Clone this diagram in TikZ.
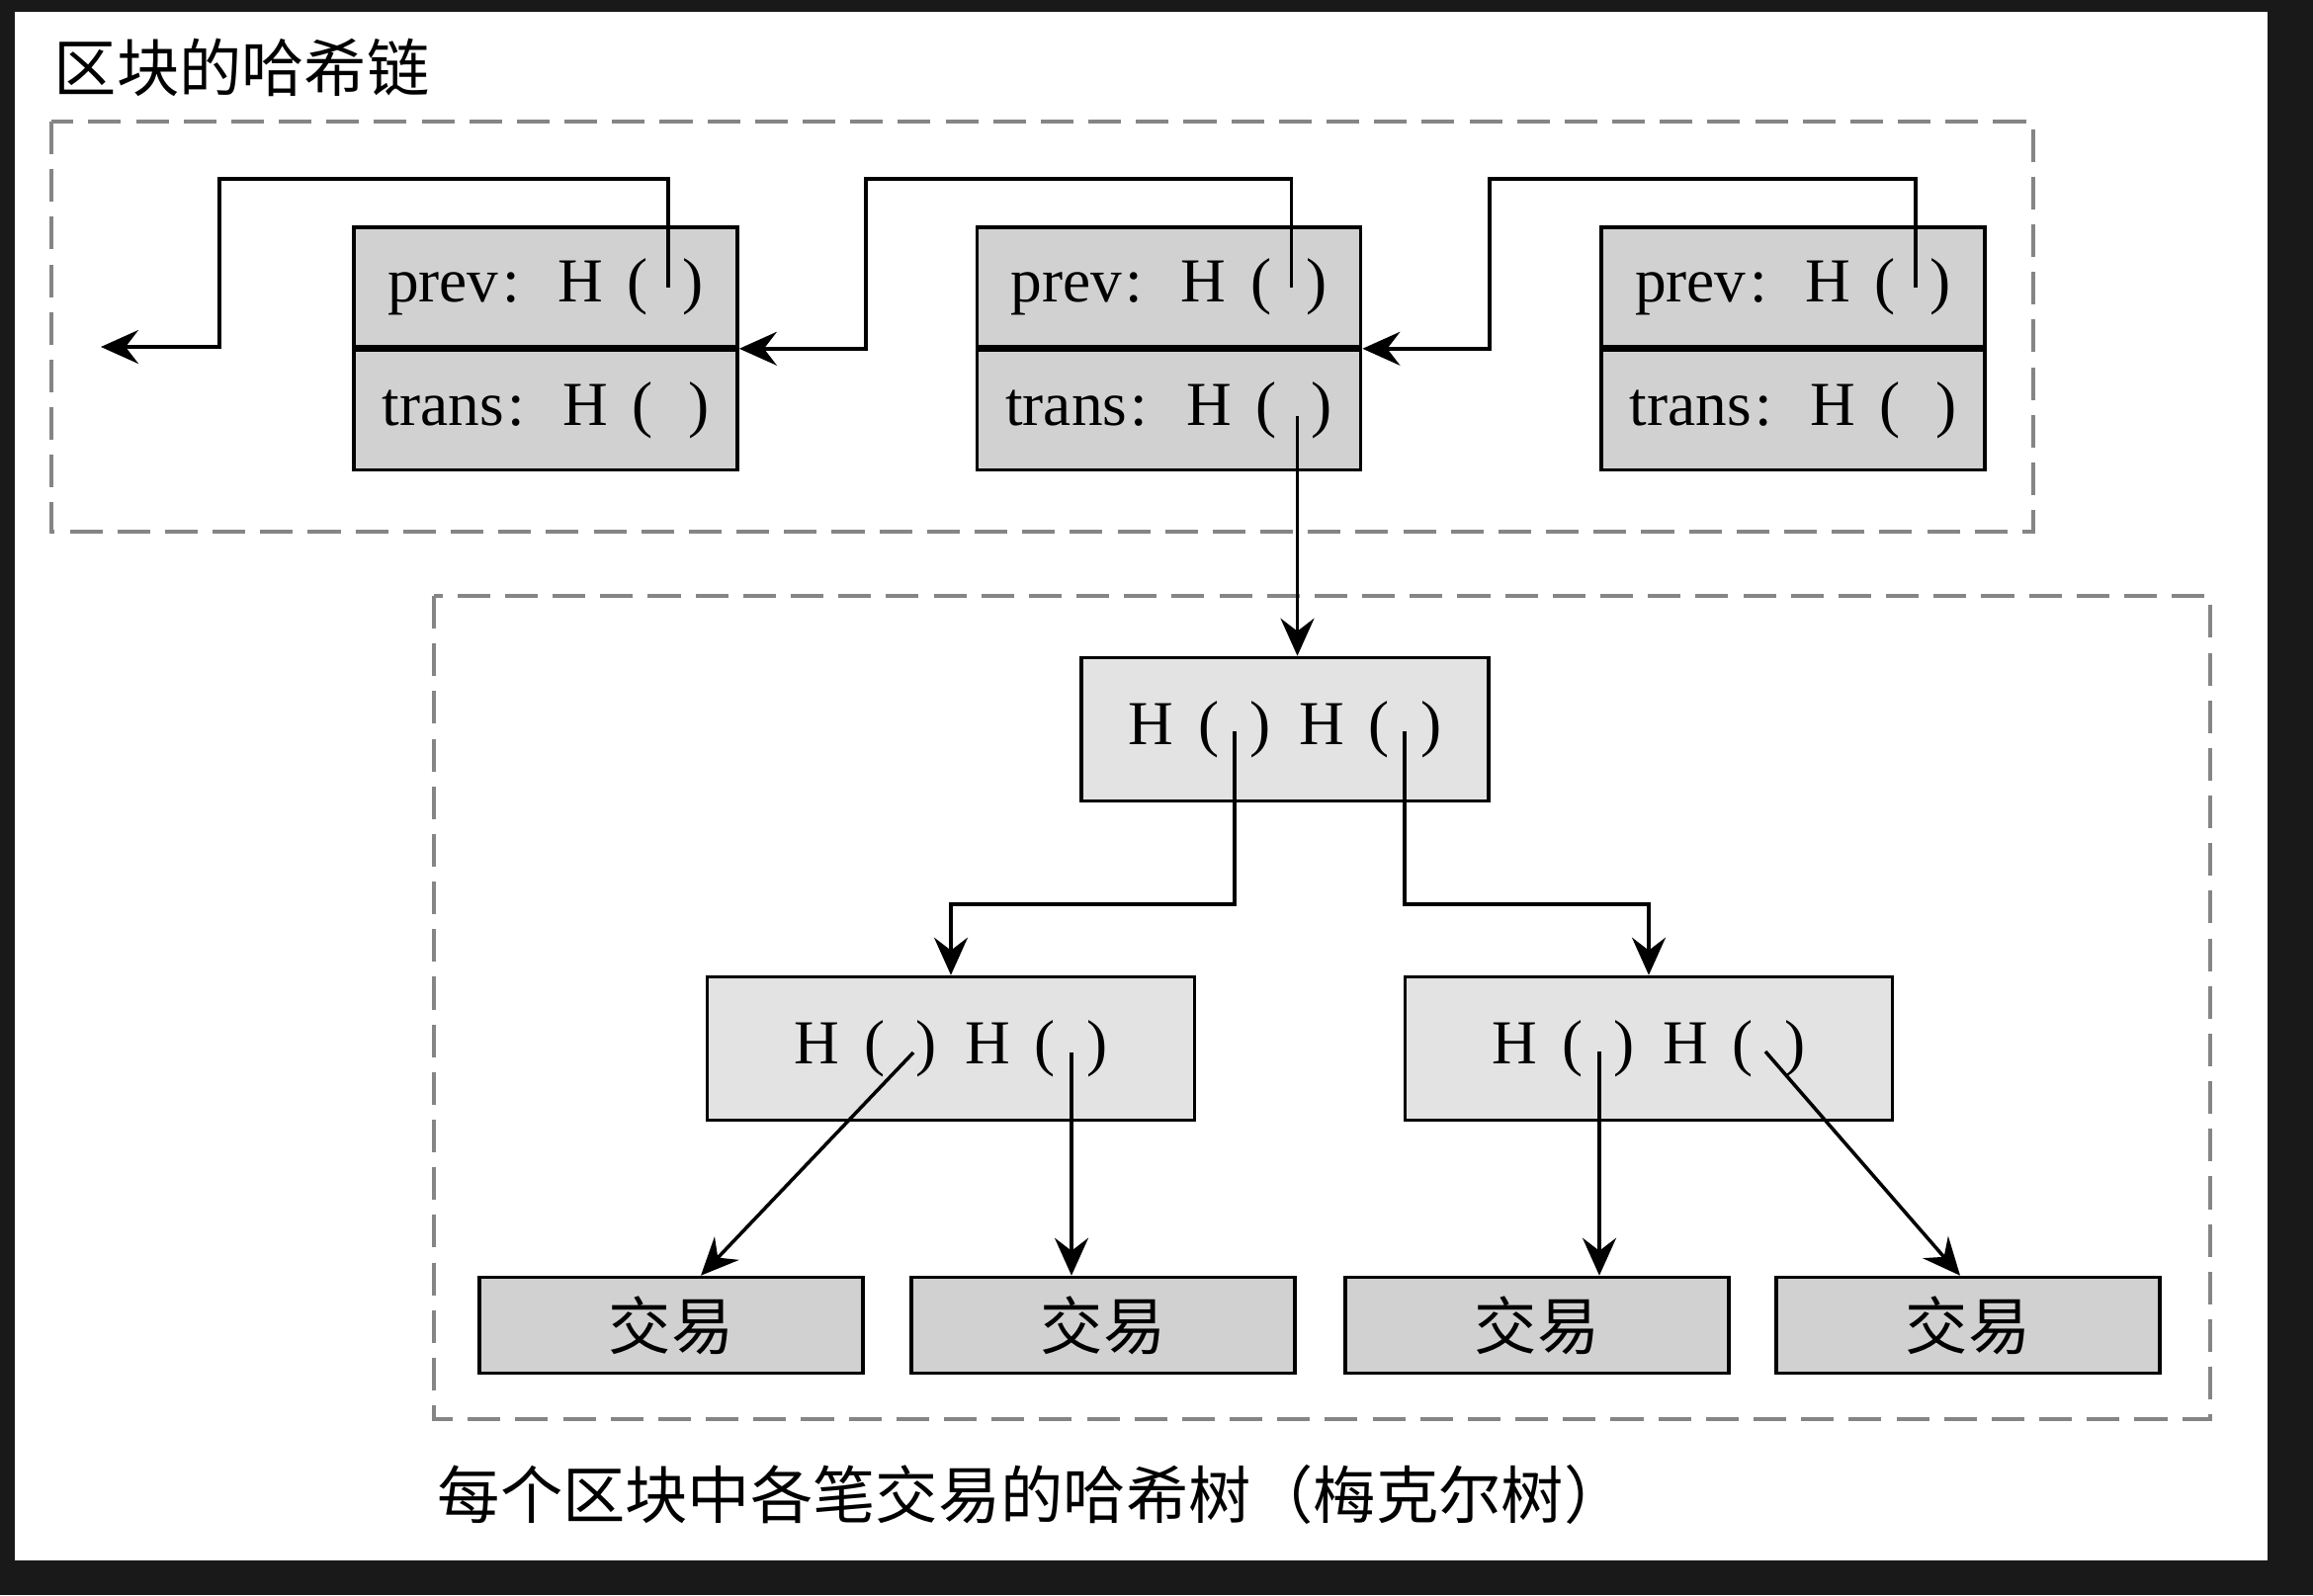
\documentclass[tikz,border=0pt]{standalone}
\usepackage{fontspec}
\setmainfont{Liberation Serif}
\newfontfamily\cjk{Noto Sans CJK SC}
\usetikzlibrary{positioning,calc,arrows.meta}

\tikzset{
  blk/.style={draw, line width=1pt, fill=black!18, minimum width=3.88cm, minimum height=1.21cm, inner sep=0pt},
  hnode/.style={draw, line width=1pt, fill=black!11, minimum width=4.12cm, minimum height=1.45cm, inner sep=0pt},
  mnode/.style={hnode, minimum width=4.93cm},
  leaf/.style={draw, line width=1pt, fill=black!18, minimum width=3.88cm, minimum height=0.97cm, inner sep=0pt},
  frame/.style={draw=black!48, line width=1.2pt, dash pattern=on 9.4pt off 4.3pt},
  link/.style={line width=1pt, -{Stealth[length=3.8mm,width=3.4mm,inset=1.3mm]}},
}
\newcommand{\fld}[1]{#1\hspace{1pt}:\hspace{11pt}H\hspace{7pt}(\hspace{10pt})}
\newcommand{\hpair}{H\hspace{7pt}(\hspace{9pt})\hspace{8pt}H\hspace{7pt}(\hspace{9pt})}

\begin{document}
\begin{tikzpicture}[x=0.01cm, y=-0.01cm, font=\fontsize{18}{22}\selectfont]
    % Page and dark border
    \fill[black!90] (0,0) rectangle (2340,1614);
    \fill[white] (15,12) rectangle (2294,1579);

    % Captions
    \node[anchor=west, inner sep=0pt] (title) at (54,68) {\cjk 区块的哈希链};
    \node[anchor=west, inner sep=0pt] (caption) at (442,1512) {\cjk 每个区块中各笔交易的哈希树（梅克尔树）};

    % Hash chain of blocks
    \draw[frame] (52,123) rectangle (2057,538);
    \foreach \i/\x in {1/552,2/1182.5,3/1814} {
        \node[blk] (prev\i) at (\x,290.5) {\fld{prev}};
        \node[blk, below=0pt of prev\i] (trans\i) {\fld{trans}};
        \coordinate (p\i) at ($(prev\i.center)+(124,0)$);
        \coordinate (t\i) at ($(trans\i.center)+(130,6)$);
    }
    \coordinate (tail) at (102,351);

    % Chain links
    \draw[link] (p1) |- (222,181) |- (tail);
    \draw[link] (p2) |- (876,181) |- (prev1.south east);
    \draw[link] (p3) |- (1507,181) |- (prev2.south east);

    % Merkle tree
    \draw[frame] (439,603) rectangle (2236,1436);
    \node[hnode] (root) at (1300,738) {\hpair};
    \node[mnode] (midL) at (962,1061) {\hpair};
    \node[mnode] (midR) at (1668,1061) {\hpair};
    \foreach \i/\x in {1/679,2/1116,3/1555,4/1991}
        \node[leaf] (leaf\i) at (\x,1341) {\cjk 交易};

    % Tree links
    \draw[link] (t2) -- (t2 |- root.north);
    \coordinate (rl) at ($(root.center)+(-51,2)$);
    \coordinate (rr) at ($(root.center)+(121,2)$);
    \draw[link] (rl) -- ++(0,175) -| (midL.north);
    \draw[link] (rr) -- ++(0,175) -| (midR.north);

    \coordinate (ml1) at ($(midL.center)+(-38,4)$);
    \coordinate (ml2) at ($(midL.center)+(122,4)$);
    \coordinate (mr1) at ($(midR.center)+(-50,3)$);
    \coordinate (mr2) at ($(midR.center)+(118,3)$);
    \draw[link] (ml1) -- ($(leaf1.north)+(30,0)$);
    \draw[link] (ml2) -- (ml2 |- leaf2.north);
    \draw[link] (mr1) -- (mr1 |- leaf3.north);
    \draw[link] (mr2) -- ($(leaf4.north)+(-8,0)$);
\end{tikzpicture}
\end{document}
